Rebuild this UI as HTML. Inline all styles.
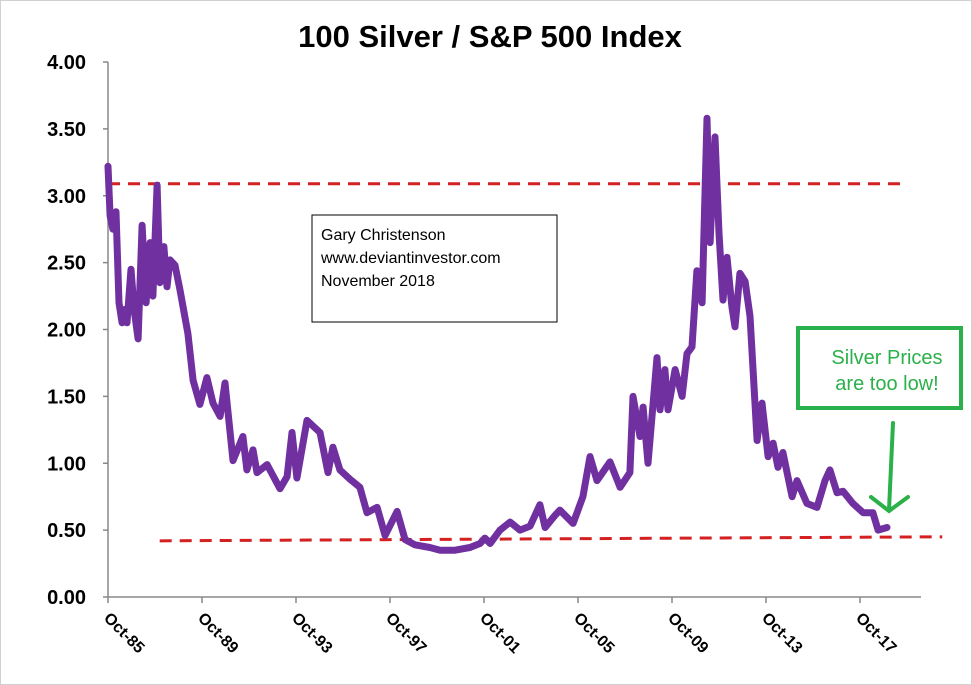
<!DOCTYPE html>
<html><head><meta charset="utf-8"><style>
html,body{margin:0;padding:0;background:#fff}
svg{display:block;font-family:"Liberation Sans",sans-serif}
</style></head><body>
<svg id="chart" width="972" height="685">
<rect x="0.5" y="0.5" width="971" height="684" fill="#fff" stroke="#d0d0d0"/>
<text x="490" y="47" text-anchor="middle" font-size="31" font-weight="bold">100 Silver / S&amp;P 500 Index</text>
<g id="axes"></g>
<g id="refs"></g>
<g id="series"></g>
<g>
<rect x="312" y="215" width="245" height="107" fill="#fff" stroke="#000" stroke-width="1"/>
<text x="321" y="240" font-size="16">Gary Christenson</text>
<text x="321" y="263" font-size="16">www.deviantinvestor.com</text>
<text x="321" y="286" font-size="16">November  2018</text>
</g>
<g>
<rect x="798" y="328" width="163" height="80" fill="#fff" stroke="#2bb04a" stroke-width="4"/>
<text x="887" y="364" text-anchor="middle" font-size="20" fill="#2bb04a">Silver Prices</text>
<text x="887" y="390" text-anchor="middle" font-size="20" fill="#2bb04a">are too low!</text>
</g>
<g stroke="#2bb04a" stroke-width="4" fill="none" stroke-linecap="round">
<path d="M893 423 L889 510"/>
<path d="M871 497 L889 511 L908 497"/>
</g>
</svg>
<script>
const yTicks=[0,0.5,1,1.5,2,2.5,3,3.5,4];
const yTickLabels=["0.00","0.50","1.00","1.50","2.00","2.50","3.00","3.50","4.00"];
const xTickYears=[0,4,8,12,16,20,24,28,32];
const xTickLabels=["Oct-85","Oct-89","Oct-93","Oct-97","Oct-01","Oct-05","Oct-09","Oct-13","Oct-17"];
const years=[0,0.09,0.21,0.34,0.47,0.6,0.72,0.81,0.98,1.11,1.28,1.45,1.62,1.79,1.91,2.09,2.21,2.38,2.51,2.64,2.85,3.06,3.4,3.62,3.91,4.21,4.47,4.77,4.98,5.32,5.74,5.91,6.17,6.34,6.77,7.32,7.62,7.83,8.04,8.47,9.02,9.36,9.57,9.87,10.3,10.72,11.02,11.45,11.79,12.3,12.64,13.06,13.7,14.13,14.77,15.4,15.83,16.04,16.26,16.68,17.11,17.53,17.96,18.38,18.6,19.02,19.23,19.79,20.21,20.51,20.81,21.36,21.79,22.21,22.34,22.64,22.77,22.98,23.36,23.49,23.7,23.83,24.13,24.43,24.64,24.85,25.06,25.28,25.49,25.62,25.83,26.0,26.17,26.34,26.55,26.68,26.89,27.11,27.32,27.62,27.83,28.09,28.3,28.51,28.72,29.11,29.32,29.74,30.17,30.51,30.72,31.02,31.28,31.7,32.13,32.55,32.77,33.15];
const ratio=[3.22,2.85,2.75,2.88,2.2,2.05,2.15,2.05,2.45,2.15,1.93,2.78,2.2,2.65,2.25,3.08,2.35,2.62,2.32,2.52,2.48,2.3,1.97,1.62,1.44,1.64,1.45,1.35,1.6,1.02,1.2,0.95,1.1,0.93,0.99,0.81,0.9,1.23,0.89,1.32,1.23,0.93,1.12,0.95,0.88,0.82,0.63,0.67,0.46,0.64,0.43,0.39,0.37,0.35,0.35,0.37,0.40,0.44,0.40,0.5,0.56,0.5,0.53,0.69,0.52,0.61,0.65,0.55,0.75,1.05,0.87,1.01,0.82,0.93,1.5,1.2,1.42,1.0,1.79,1.4,1.7,1.4,1.7,1.5,1.82,1.87,2.44,2.2,3.58,2.65,3.44,2.72,2.22,2.54,2.17,2.02,2.42,2.36,2.1,1.17,1.45,1.05,1.15,0.97,1.08,0.75,0.87,0.7,0.67,0.87,0.95,0.78,0.79,0.7,0.63,0.63,0.5,0.52];
const refTopStart=[0,3.09], refTopEnd=[33.7,3.09];
const refBotStart=[2.2,0.42], refBotEnd=[35.5,0.45];

const NS="http://www.w3.org/2000/svg";
const X0=108,PXY=23.5,Y0=597,PXV=133.75;
function sx(t){return X0+t*PXY;}
function sy(v){return Y0-v*PXV;}
function mk(tag,attrs,parent){const e=document.createElementNS(NS,tag);for(const k in attrs)e.setAttribute(k,attrs[k]);parent.appendChild(e);return e;}
const axes=document.getElementById('axes');
const yAxis=mk('line',{x1:X0,y1:sy(4),x2:X0,y2:Y0,stroke:'#888','stroke-width':1.5},axes);


const xAxis=mk('line',{x1:X0,y1:Y0,x2:921,y2:Y0,stroke:'#888','stroke-width':1.5},axes);


yTicks.forEach((v,i)=>{
  const tk=mk('line',{x1:X0-5,y1:sy(v),x2:X0,y2:sy(v),stroke:'#888','stroke-width':1.5},axes);
  
  
  const t=mk('text',{x:86,y:sy(v)+7,'text-anchor':'end','font-size':20,'font-weight':'bold'},axes);
  t.textContent=yTickLabels[i];
  
  
});
xTickYears.forEach((yr,i)=>{
  const x=sx(yr);
  const tk=mk('line',{x1:x,y1:Y0,x2:x,y2:Y0+6,stroke:'#888','stroke-width':1.5},axes);
  
  
  const t=mk('text',{x:x-5,y:Y0+22,'font-size':16,'font-weight':'bold',transform:`rotate(45 ${x-5} ${Y0+22})`},axes);
  t.textContent=xTickLabels[i];
  
  
});
const refs=document.getElementById('refs');
const r1=mk('line',{x1:sx(refTopStart[0]),y1:sy(refTopStart[1]),x2:sx(refTopEnd[0]),y2:sy(refTopEnd[1]),stroke:'#d42020','stroke-width':3,'stroke-dasharray':'12 8'},refs);


const r2=mk('line',{x1:sx(refBotStart[0]),y1:sy(refBotStart[1]),x2:sx(refBotEnd[0]),y2:sy(refBotEnd[1]),stroke:'#d42020','stroke-width':3,'stroke-dasharray':'12 8'},refs);


const series=document.getElementById('series');
const d=years.map((t,i)=>(i?'L':'M')+sx(t).toFixed(1)+' '+sy(ratio[i]).toFixed(1)).join(' ');
const p=mk('path',{d:d,fill:'none',stroke:'#7030a0','stroke-width':7,'stroke-linejoin':'round','stroke-linecap':'round'},series);


</script>
</body></html>
